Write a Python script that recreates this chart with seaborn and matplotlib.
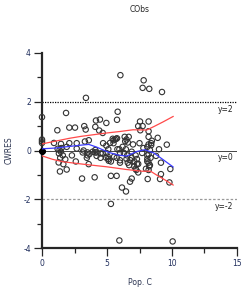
import matplotlib
matplotlib.use("Agg")
import matplotlib.pyplot as plt
import seaborn as sns
import pandas as pd

# observed points: Pop. C vs CWRES
pop_c = [
    0, 0, 0, 0,
    1.85, 1.18, 2.1, 2.54, 3.25, 3.36, 4.15, 4.46, 4.95, 4.4, 4.67, 4.1,
    3.38, 5.82, 5.77, 7.54, 8.2, 7.4, 7.74, 7.56, 8.2, 8.9, 9.6,
    6.03, 7.82, 7.74, 8.25, 9.23,
    5.44, 5.7, 5.77, 6.36, 6.67, 6.4, 8.2, 8.2, 0.92, 1.46,
    5.23, 5.6, 5.5, 6.5, 6.6, 7.0, 7.5, 8.4, 8.4, 8.45, 6.2, 6.45,
    1.2, 1.35, 1.45, 1.3, 1.6, 1.4, 1.5, 1.9, 2.1, 2.67, 2.67,
    3.3, 3.6, 3.2, 3.5, 3.5, 3.45, 4.1, 4.2, 4.5, 4.5,
    4.7, 4.95, 5.1, 4.95, 5.5, 5.8, 5.95, 6.0, 5.55, 6.0,
    6.3, 6.55, 6.8, 6.7, 7.2, 7.3, 7.4, 7.25,
    7.8, 8.1, 8.3, 8.2, 8.35, 8.1, 8.3, 8.0, 8.77, 9.15,
    1.38, 1.9, 1.64, 1.28, 1.79, 2.6, 3.08, 4.05, 3.59, 3.13, 3.64,
    4.1, 4.2, 4.67, 4.92, 5.13,
    5.3, 5.74, 6.15, 6.46, 6.77, 6.9, 8.13, 9.15, 9.08, 9.8, 9.87,
    5.95, 10.05, 5.3,
    6.5, 6.6, 6.9, 7.1, 7.1, 7.2, 7.3, 7.4, 8.1, 8.1, 8.2, 8.25, 8.2,
    5.1, 5.75, 6.0, 5.3, 5.05, 3.9, 2.3, 6.9, 7.7, 9.0,
]
cwres = [
    1.37, 0.45, 0.38, 0.31,
    1.54, 0.83, 0.94, 0.94, 1.0, 0.86, 1.23, 1.27, 1.13, 0.82, 0.72, 0.97,
    2.16, 1.59, 1.26, 1.19, 1.19, 1.0, 1.0, 0.83, 0.79, 0.52, 0.24,
    3.09, 2.88, 2.57, 2.53, 2.4,
    0.48, 0.48, 0.5, 0.56, 0.56, 0.38, 0.56, 0.25, 0.31, 0.27,
    0.31, 0.45, 0.42, 0.45, 0.33, 0.25, 0.3, 0.3, 0.22, 0.4, 0.15, 0.05,
    0.07, 0.02, -0.05, -0.12, -0.2, -0.3, 0.1, 0.15, 0.3, 0.3, 0.08,
    0.37, 0.42, 0.0, -0.08, -0.2, -0.3, 0.02, -0.08, -0.12, -0.3,
    0.3, 0.2, 0.05, -0.1, 0.3, 0.05, 0.05, -0.1, -0.25, -0.4,
    -0.1, -0.2, -0.4, -0.6, -0.2, -0.35, -0.55, -0.8,
    0.1, 0.15, 0.02, -0.15, -0.3, -0.45, -0.6, -0.75, -0.22, -0.5,
    -0.86, -0.78, -0.56, -0.49, -0.36, -0.45, -1.15, -1.1, -0.56, -0.08, -0.15,
    -0.08, -0.22, -0.12, -0.29, -0.42,
    -1.04, -1.04, -1.52, -1.68, -1.28, -1.15, -1.17, -0.97, -1.17, -1.31, -0.76,
    -3.69, -3.73, -2.19,
    -0.35, -0.5, -0.3, -0.45, -0.65, -0.75, -0.55, -0.9, -0.2, -0.35, -0.5, -0.65, -0.8,
    -0.35, -0.3, -0.5, -0.45, -0.25, -0.05, -0.2, -0.05, -0.1, 0.05,
]
# stacked observations at the origin (drawn as a solid dot)
origin_c = [0, 0, 0]
origin_cwres = [0.0, 0.0, 0.0]

# smooth (loess) line and spread lines
smooth_x = [0, 1, 2, 3, 3.6, 4.2, 5.1, 5.8, 6.5, 7.3, 7.9, 8.6, 9.3, 10.1]
smooth_y = [0.07, 0.1, 0.16, 0.22, 0.25, 0.14, -0.07, -0.18, -0.23, -0.04, 0.03, -0.1, -0.37, -0.68]
upper_x = [0, 1, 2.1, 3, 4, 5, 6, 7, 8.05, 8.6, 9.3, 10.1]
upper_y = [0.27, 0.38, 0.5, 0.58, 0.65, 0.72, 0.78, 0.85, 0.84, 0.98, 1.17, 1.4]
lower_x = [0, 0.8, 1.6, 2.5, 3.3, 5, 6.5, 7.7, 8.35, 8.95, 9.5, 10.1]
lower_y = [-0.22, -0.36, -0.46, -0.52, -0.57, -0.67, -0.78, -0.85, -0.85, -1.05, -1.22, -1.42]

ref_levels = [2, 0, -2]
ref_labels = ["y=2", "y=0", "y=-2"]

obs = pd.DataFrame({"Pop. C": pop_c, "CWRES": cwres})

sns.set_style("ticks")
plt.rcParams["font.family"] = ["DejaVu Sans"]
plt.rcParams["axes.unicode_minus"] = False

fig = plt.figure(figsize=(2.53, 2.92), dpi=100)
ax = fig.add_axes([42 / 253, 1 - 248 / 292, 195 / 253, 195 / 292])

# reference lines
ax.axhline(2, color="black", lw=0.9, ls=(0, (1, 1)), zorder=1)
ax.axhline(0, color="#444444", lw=0.7, zorder=1)
ax.axhline(-2, color="#999999", lw=0.9, ls=(0, (2, 1.5)), zorder=1)
for lvl, lab in zip(ref_levels, ref_labels):
    ax.text(14.7, lvl - 0.12, lab, ha="right", va="top", fontsize=5.5, color="#222222")

sns.scatterplot(data=obs, x="Pop. C", y="CWRES", ax=ax, marker="o", s=15,
                facecolor="none", edgecolor="#333333", linewidth=0.8,
                clip_on=False, zorder=3)
sns.scatterplot(x=origin_c, y=origin_cwres, ax=ax, marker="o", s=15,
                color="black", edgecolor="black", linewidth=0.8,
                clip_on=False, zorder=3)

sns.lineplot(x=smooth_x, y=smooth_y, ax=ax, color="#3b3bff", lw=0.9, zorder=4)
sns.lineplot(x=upper_x, y=upper_y, ax=ax, color="#ff4a4a", lw=0.9, zorder=4)
sns.lineplot(x=lower_x, y=lower_y, ax=ax, color="#ff4a4a", lw=0.9, zorder=4)

ax.set_xlim(0, 15)
ax.set_ylim(-4, 4)
ax.set_xticks([0, 5, 10, 15])
ax.set_xticks([2.5, 7.5, 12.5], minor=True)
ax.set_yticks([-4, -2, 0, 2, 4])
ax.set_yticks([-3, -1, 1, 3], minor=True)
ax.tick_params(which="major", length=6, width=0.9, labelsize=5.5,
               labelcolor="#1f2d5c", pad=2)
ax.tick_params(which="minor", length=3.5, width=0.9)
for side in ["left", "bottom"]:
    ax.spines[side].set_linewidth(1.6)
sns.despine(ax=ax)

ax.set_xlabel("Pop. C", fontsize=5.5, color="#2a3350", labelpad=7)
ax.set_ylabel("CWRES", fontsize=5.5, color="#2a3350", labelpad=7)
fig.text(140 / 253, 1 - 9 / 292, "CObs", ha="center", va="center", fontsize=5.5)

fig.savefig("out.png", dpi=100)
